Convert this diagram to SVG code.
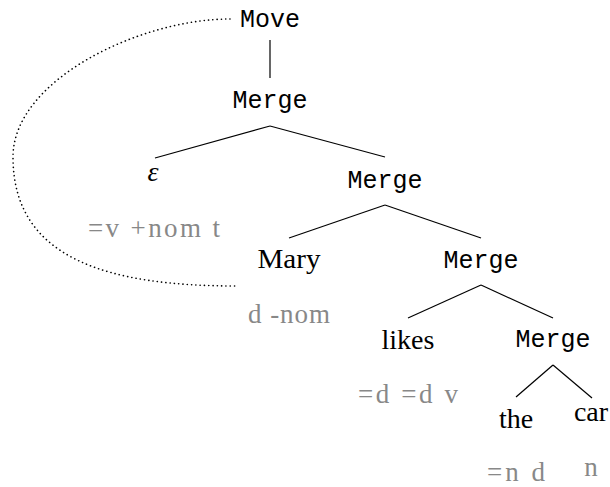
<svg xmlns="http://www.w3.org/2000/svg" width="610" height="487" viewBox="0 0 610 487">
<style>
.op{font-family:"Liberation Mono","DejaVu Sans Mono",monospace;font-size:25px;fill:#000;text-anchor:middle}
.lex{font-family:"Liberation Serif","DejaVu Serif",serif;font-size:28px;fill:#000;text-anchor:middle}
.feat{font-family:"Liberation Serif","DejaVu Serif",serif;font-size:27px;fill:#888;text-anchor:middle}
.edge{stroke:#000;stroke-width:1.2;fill:none}
.move{stroke:#000;stroke-width:1.6;fill:none;stroke-dasharray:0.1 4.2;stroke-linecap:round}
</style>
<rect width="610" height="487" fill="#fff"/>
<g id="connectors">
<line class="edge" x1="270" y1="40" x2="270" y2="78"/>
<line class="edge" x1="270" y1="126" x2="155" y2="158"/>
<line class="edge" x1="270" y1="126" x2="385" y2="157"/>
<line class="edge" x1="385" y1="205" x2="289" y2="238"/>
<line class="edge" x1="385" y1="205" x2="481" y2="238"/>
<line class="edge" x1="481" y1="285" x2="408" y2="318"/>
<line class="edge" x1="481" y1="285" x2="553" y2="318"/>
<line class="edge" x1="553" y1="365" x2="516" y2="397"/>
<line class="edge" x1="553" y1="365" x2="592" y2="398"/>
<path class="move" d="M230,19 C140,19 13,80 13,157 C13,260 110,286 237,286"/>
</g>
<g id="move"><text class="op" x="270" y="27">Move</text></g>
<g id="merge1"><text class="op" x="270" y="108">Merge</text></g>
<g id="epsilon"><text class="lex" x="153" y="181" style="font-style:italic">ε</text><text class="feat" x="154" y="237" textLength="132" lengthAdjust="spacing">=v +nom t</text></g>
<g id="merge2"><text class="op" x="385" y="188">Merge</text></g>
<g id="mary"><text class="lex" x="289" y="268" textLength="63" lengthAdjust="spacingAndGlyphs">Mary</text><text class="feat" x="289" y="323" textLength="82" lengthAdjust="spacing">d -nom</text></g>
<g id="merge3"><text class="op" x="481" y="268">Merge</text></g>
<g id="likes"><text class="lex" x="408" y="349">likes</text><text class="feat" x="408" y="403" textLength="100" lengthAdjust="spacing">=d =d v</text></g>
<g id="merge4"><text class="op" x="553" y="347">Merge</text></g>
<g id="the"><text class="lex" x="516" y="428">the</text><text class="feat" x="516" y="481" textLength="58" lengthAdjust="spacing">=n d</text></g>
<g id="car"><text class="lex" x="591" y="421">car</text><text class="feat" x="591" y="476">n</text></g>
</svg>
